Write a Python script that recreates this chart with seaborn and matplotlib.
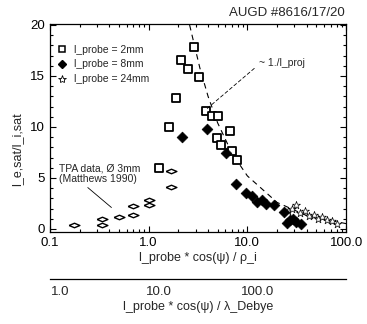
import numpy as np
import pandas as pd
import seaborn as sns
import matplotlib.pyplot as plt
from matplotlib.lines import Line2D
from matplotlib.ticker import AutoMinorLocator, FixedLocator, NullFormatter, LogLocator

# l_probe = 2mm (open squares)
sq_x = [2.9, 2.15, 2.5, 3.27, 1.9, 3.8, 4.4, 5.1, 1.6, 6.6, 4.9, 5.4, 7.0, 7.9, 1.26]
sq_y = [17.8, 16.6, 15.7, 14.9, 12.8, 11.6, 11.1, 11.1, 10.0, 9.6, 8.9, 8.2, 7.6, 6.8, 6.0]

# l_probe = 8mm (filled diamonds)
di_x = [2.2, 3.9, 6.1, 7.7, 9.8, 11.2, 12.6, 14.0, 15.6, 18.7, 23.5, 25.0, 27.0, 29.0, 31.0, 35.0]
di_y = [9.0, 9.8, 7.4, 4.4, 3.5, 3.2, 2.6, 2.8, 2.4, 2.3, 1.7, 0.6, 0.9, 1.0, 0.7, 0.5]

# l_probe = 24mm (open stars)
st_x = [26, 28, 31, 34, 38, 42, 47, 52, 57, 64, 72, 80]
st_y = [1.8, 2.0, 2.3, 1.6, 1.8, 1.3, 1.4, 1.0, 1.2, 0.9, 0.8, 0.5]

# TPA data, Matthews 1990 (flat open diamonds)
tpa_x = [0.175, 0.34, 0.34, 0.5, 0.69, 0.69, 1.0, 1.0, 1.67, 1.67]
tpa_y = [0.4, 1.0, 0.4, 1.2, 1.4, 2.2, 2.8, 2.3, 5.7, 4.1]

# ~ 1./l_proj dashed curve
fit_x = [2.6, 3.3, 4.0, 5.0, 7.0, 10.0, 20.0, 40.0, 100.0]
fit_y = [20.0, 15.8, 13.0, 10.4, 7.4, 5.2, 2.6, 1.3, 0.52]

x_ticks = [0.1, 1.0, 10.0, 100.0]
x_labels = ["0.1", "1.0", "10.0", "100.0"]
y_ticks = [0, 5, 10, 15, 20]
debye_ticks = [1.0, 10.0, 100.0]
debye_labels = ["1.0", "10.0", "100.0"]

sns.set_style("ticks")
plt.rcParams["font.family"] = ["Liberation Sans", "DejaVu Sans"]

fig = plt.figure(figsize=(3.67, 3.24), dpi=100)
ax = fig.add_axes([0.136, 0.284, 0.807, 0.642])

flat_diamond = [(-1, 0), (0, 0.42), (1, 0), (0, -0.42), (-1, 0)]

sns.lineplot(x=fit_x, y=fit_y, ax=ax, color="black", lw=0.8,
             linestyle=(0, (5, 4)), estimator=None, sort=False)
sns.scatterplot(x=tpa_x, y=tpa_y, ax=ax, marker=flat_diamond, s=60,
                facecolor="white", edgecolor="black", linewidth=1.0, zorder=3)
sns.scatterplot(x=sq_x, y=sq_y, ax=ax, marker="s", s=32,
                facecolor="white", edgecolor="black", linewidth=1.3, zorder=3)
sns.scatterplot(x=di_x, y=di_y, ax=ax, marker="D", s=30,
                color="black", edgecolor="black", linewidth=0.5, zorder=4)
sns.scatterplot(x=st_x, y=st_y, ax=ax, marker="*", s=35,
                facecolor="white", edgecolor="black", linewidth=0.5, zorder=3)

ax.set_xscale("log")
ax.set_xlim(0.1, 100)
ax.set_ylim(-0.3, 20.1)
ax.xaxis.set_major_locator(FixedLocator(x_ticks))
ax.set_xticklabels(x_labels)
ax.xaxis.set_minor_locator(LogLocator(subs=np.arange(2, 10)))
ax.xaxis.set_minor_formatter(NullFormatter())
ax.set_yticks(y_ticks)
ax.yaxis.set_minor_locator(AutoMinorLocator(5))
ax.tick_params(which="both", direction="in", top=True, right=True,
               labelsize=9.5, width=0.8, colors="black")
ax.tick_params(which="major", length=4)
ax.tick_params(which="minor", length=2)
for sp in ax.spines.values():
    sp.set_linewidth(0.9)
    sp.set_color("black")

ax.set_xlabel("l_probe * cos(\u03c8) / \u03c1_i", fontsize=9, labelpad=2)
ax.set_ylabel("l_e,sat/l_i,sat", fontsize=9)
ax.yaxis.set_label_coords(-0.09, 0.4)

fig.text(0.94, 0.96, "AUGD #8616/17/20", ha="right", va="center", fontsize=9.5)

handles = [
    Line2D([], [], ls="none", marker="s", ms=4.5, mfc="white", mec="black", mew=1.1),
    Line2D([], [], ls="none", marker="D", ms=4.5, mfc="black", mec="black"),
    Line2D([], [], ls="none", marker="*", ms=6, mfc="white", mec="black", mew=0.6),
]
ax.legend(handles, ["l_probe = 2mm", "l_probe = 8mm", "l_probe = 24mm"],
          loc="upper left", bbox_to_anchor=(0.01, 0.92), frameon=False,
          fontsize=7.5, handlelength=1.0, handletextpad=0.6, labelspacing=0.45,
          borderaxespad=0)

ax.annotate("TPA data, \u00d8 3mm\n(Matthews 1990)", xy=(0.42, 2.1),
            xytext=(0.125, 5.4), fontsize=7.5, va="center", ha="left",
            linespacing=1.1,
            arrowprops=dict(arrowstyle="-", lw=0.6, color="black",
                            shrinkA=0, shrinkB=0, relpos=(0.3, 0)))
ax.annotate("~ 1./l_proj", xy=(3.8, 11.7), xytext=(13.0, 16.3),
            fontsize=7.5, va="center", ha="left",
            arrowprops=dict(arrowstyle="-", lw=0.6, ls=(0, (4, 3)),
                            color="black", shrinkA=1, shrinkB=0,
                            relpos=(0, 0.3)))

# second scale in units of the Debye length
ax2 = fig.add_axes([0.136, 0.139, 0.807, 0.0001])
ax2.set_xscale("log")
ax2.set_xlim(0.792, 792)
ax2.set_yticks([])
for name in ["top", "left", "right"]:
    ax2.spines[name].set_visible(False)
ax2.spines["bottom"].set_linewidth(0.9)
ax2.spines["bottom"].set_color("black")
ax2.xaxis.set_major_locator(FixedLocator(debye_ticks))
ax2.set_xticklabels(debye_labels)
ax2.xaxis.set_minor_locator(FixedLocator([]))
ax2.tick_params(axis="x", length=0, labelsize=9.5, pad=5)
ax2.set_xlabel("l_probe * cos(\u03c8) / \u03bb_Debye", fontsize=9, labelpad=2)
ax2.patch.set_alpha(0)

fig.savefig("out.png", dpi=100)
